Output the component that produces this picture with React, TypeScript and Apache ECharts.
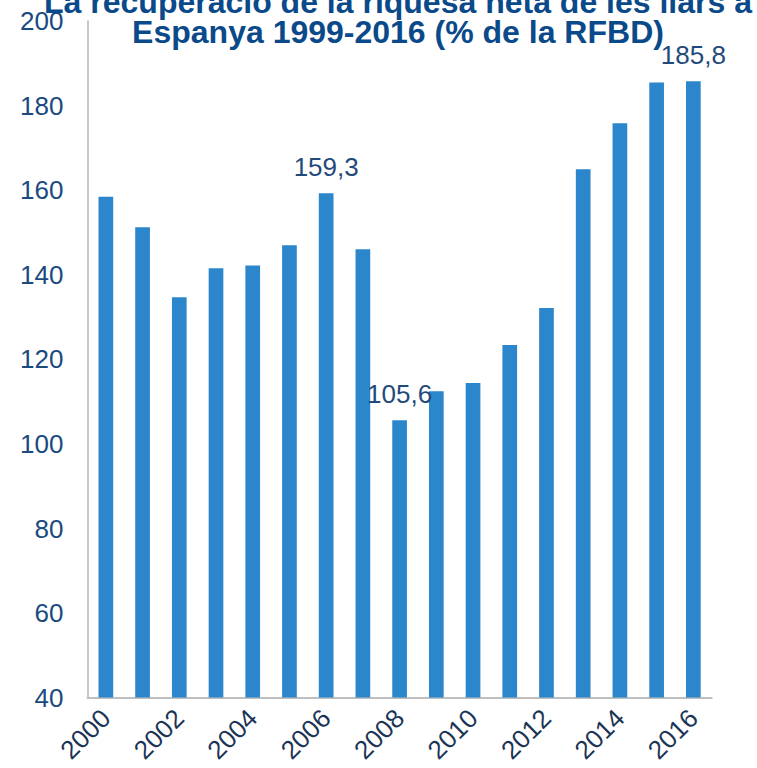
import React, { useEffect, useRef } from "react";
import * as echarts from "echarts";

const years = ["2000","2001","2002","2003","2004","2005","2006","2007","2008","2009","2010","2011","2012","2013","2014","2015","2016"];
const values = [158.5, 151.3, 134.7, 141.6, 142.2, 147.0, 159.3, 146.1, 105.6, 112.5, 114.4, 123.4, 132.2, 165.0, 175.9, 185.5, 185.8];
const labelledYears = ["2006", "2008", "2016"];
const titleLines = ["La recuperació de la riquesa neta de les llars a", "Espanya 1999-2016 (% de la RFBD)"];
const yMin = 40;
const yMax = 200;
const yStep = 20;

export default function App() {
  const ref = useRef<HTMLDivElement>(null);
  useEffect(() => {
    if (!ref.current) return;
    const chart = echarts.init(ref.current, undefined, { renderer: "svg" });
    const font = 'Arial, "Liberation Sans", sans-serif';
    chart.setOption({
      animation: false,
      backgroundColor: "#ffffff",
      grid: { left: 87.5, right: 45.3, top: 21.3, bottom: 70.4, containLabel: false },
      xAxis: {
        type: "category",
        data: years,
        axisLine: { show: true, lineStyle: { color: "#BFBFBF", width: 2 } },
        axisTick: { show: false },
        axisLabel: {
          interval: 1,
          rotate: 45,
          margin: 16,
          fontSize: 26,
          fontFamily: font,
          color: "#1B3456",
        },
      },
      yAxis: {
        type: "value",
        min: yMin,
        max: yMax,
        interval: yStep,
        splitLine: { show: false },
        axisTick: { show: false },
        axisLine: { show: true, lineStyle: { color: "#C8C8C8", width: 2 } },
        axisLabel: { fontSize: 26, fontFamily: font, color: "#1A4A80", margin: 24 },
      },
      series: [
        {
          type: "bar",
          barWidth: "40%",
          itemStyle: { color: "#2B86CB" },
          data: values.map((v, i) => ({
            value: v,
            label: {
              show: labelledYears.includes(years[i]),
              position: "top",
              distance: 13,
              fontSize: 26,
              fontFamily: font,
              color: "#1F4A7A",
              formatter: (p: any) => String(p.value.toFixed(1)).replace(".", ","),
            },
          })),
        },
      ],
      graphic: [
        {
          type: "text",
          x: 398,
          y: 1.6,
          z: 100,
          style: {
            text: titleLines[0],
            font: `bold 32px ${font}`,
            fill: "#0B4A8A",
            align: "center",
            verticalAlign: "middle",
          },
        },
        {
          type: "text",
          x: 398,
          y: 32.2,
          z: 100,
          style: {
            text: titleLines[1],
            font: `bold 32px ${font}`,
            fill: "#0B4A8A",
            align: "center",
            verticalAlign: "middle",
          },
        },
      ],
    });
    return () => chart.dispose();
  }, []);
  return (
    <div
      ref={ref}
      style={{ position: "fixed", left: 0, top: 0, width: 757, height: 768, background: "#fff" }}
    />
  );
}
